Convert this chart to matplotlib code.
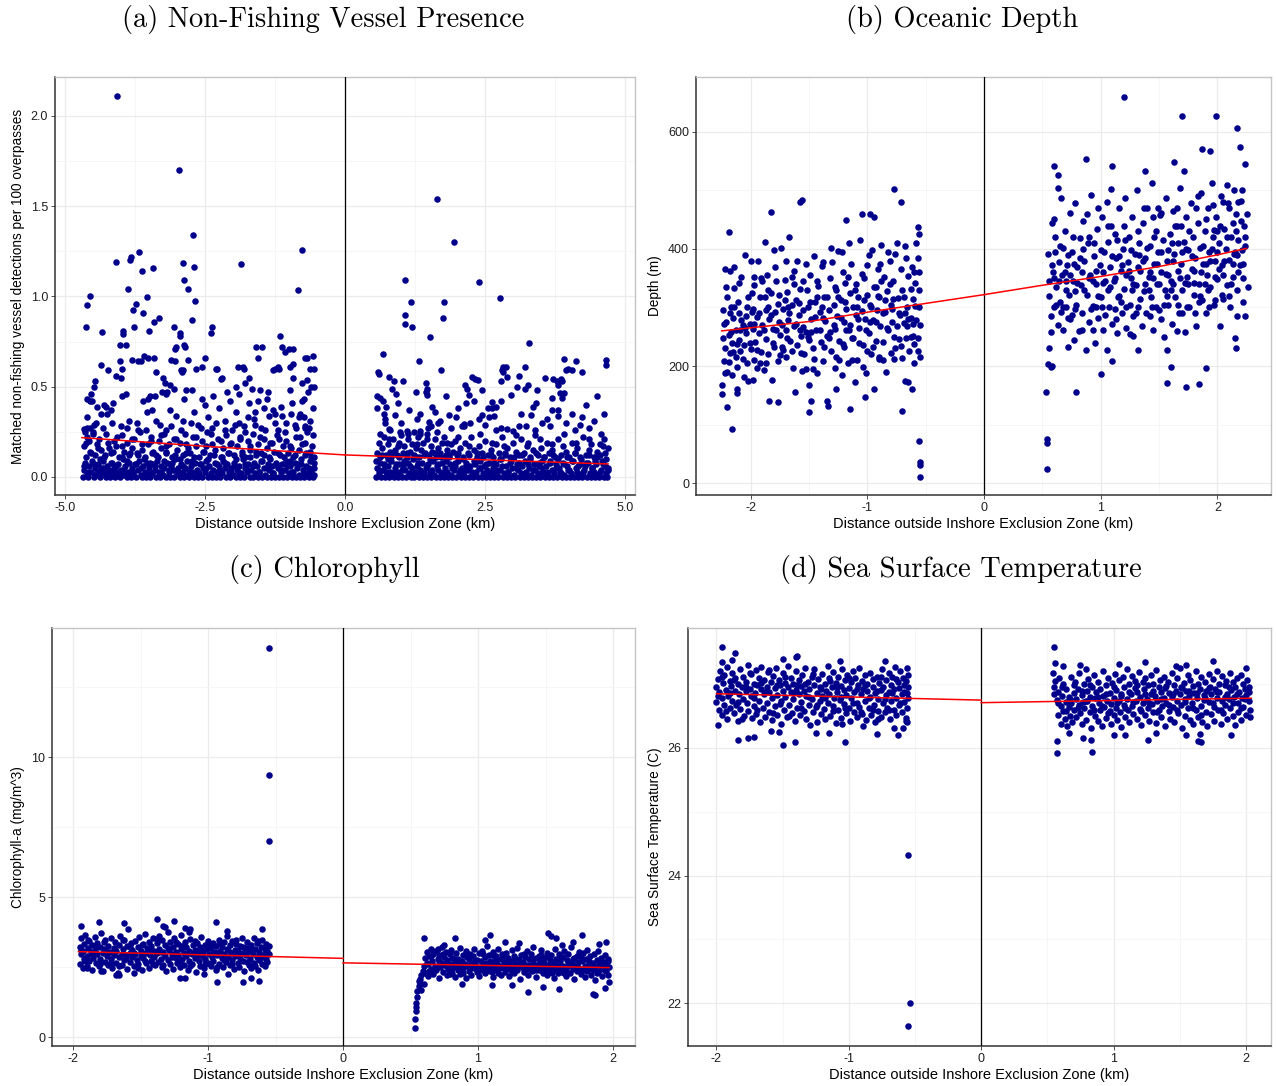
"""
Four-panel scatter: distance outside the inshore exclusion zone against
vessel presence, depth, chlorophyll-a and sea surface temperature.
"""
import matplotlib
matplotlib.use("Agg")
import matplotlib.pyplot as plt
import numpy as np
from matplotlib.ticker import MultipleLocator, FormatStrFormatter

plt.rcParams["font.family"] = ["Liberation Sans", "DejaVu Sans"]
plt.rcParams["axes.unicode_minus"] = False

POINT_COLOR = "#00008B"
XLABEL = "Distance outside Inshore Exclusion Zone (km)"

# ==================== (a) non-fishing vessel presence ====================
A_LEFT_HIGH = [
    (-4.07, 2.11), (-2.96, 1.70), (-2.72, 1.34), (-0.76, 1.26), (-3.68, 1.245), (-3.82, 1.22), (-3.84, 1.20),
    (-4.09, 1.19), (-2.89, 1.185), (-2.70, 1.165), (-1.86, 1.18), (-3.62, 1.14), (-3.43, 1.16), (-2.87, 1.09),
    (-2.80, 1.04), (-3.88, 1.04), (-0.84, 1.036), (-4.56, 1.00), (-4.60, 0.953), (-3.54, 0.995), (-3.74, 0.96),
    (-3.79, 0.927), (-3.61, 0.908), (-2.68, 0.977), (-2.74, 0.87), (-3.33, 0.88), (-3.42, 0.86), (-4.63, 0.83),
    (-4.34, 0.805), (-2.38, 0.83), (-2.40, 0.80), (-3.97, 0.81), (-3.96, 0.79), (-3.77, 0.83), (-3.50, 0.81),
    (-3.06, 0.83), (-2.95, 0.78), (-2.94, 0.80), (-3.02, 0.72), (-2.87, 0.73), (-4.02, 0.73), (-3.91, 0.73),
    (-1.16, 0.78), (-1.13, 0.72), (-1.00, 0.71), (-0.92, 0.71), (-1.07, 0.69), (-1.59, 0.72), (-1.49, 0.72),
    (-1.55, 0.66), (-1.20, 0.61), (-1.25, 0.60), (-1.83, 0.61), (-1.80, 0.60), (-0.93, 0.625), (-0.57, 0.67),
    (-0.67, 0.66), (-0.56, 0.60), (-0.56, 0.50), (-0.92, 0.55), (-0.67, 0.535), (-1.78, 0.52), (-1.95, 0.50),
    (-2.21, 0.54), (-2.30, 0.60), (-2.50, 0.66), (-2.67, 0.60), (-2.56, 0.61), (-2.80, 0.65), (-2.93, 0.59),
    (-2.91, 0.58), (-3.10, 0.65), (-2.84, 0.48), (-4.02, 0.645), (-4.35, 0.62), (-4.23, 0.59), (-3.99, 0.60),
    (-4.00, 0.55), (-4.09, 0.56), (-4.46, 0.53), (-4.48, 0.50), (-4.53, 0.46), (-4.60, 0.43), (-4.56, 0.42),
    (-4.52, 0.42), (-4.61, 0.33), (-4.43, 0.39), (-4.30, 0.40), (-4.27, 0.39), (-4.18, 0.37), (-4.14, 0.41),
    (-4.36, 0.35), (-4.26, 0.35), (-4.44, 0.30), (-4.55, 0.27), (-4.66, 0.265), (-4.61, 0.27), (-4.50, 0.24),
    (-3.91, 0.46), (-3.99, 0.45), (-3.49, 0.45), (-3.52, 0.43), (-3.39, 0.45), (-3.60, 0.42), (-3.45, 0.37),
    (-3.54, 0.36), (-3.80, 0.65), (-3.70, 0.64), (-3.65, 0.64), (-3.59, 0.67), (-3.52, 0.66), (-3.42, 0.66),
    (-3.37, 0.58), (-3.25, 0.55), (-3.22, 0.52), (-3.13, 0.51), (-3.06, 0.49), (-3.26, 0.47), (-3.20, 0.46),
    (-3.18, 0.47), (-3.13, 0.37), (-3.04, 0.64), (-3.03, 0.71), (-2.85, 0.72), (-2.89, 0.59), (-2.87, 0.43),
    (-2.74, 0.48), (-3.01, 0.34), (-2.90, 0.31), (-2.56, 0.43), (-2.28, 0.60), (-2.20, 0.55), (-1.92, 0.61),
    (-1.72, 0.55), (-2.10, 0.47), (-2.06, 0.42), (-1.89, 0.46), (-1.71, 0.41), (-1.73, 0.33), (-1.89, 0.30),
    (-1.66, 0.49), (-1.52, 0.48), (-1.56, 0.42), (-1.38, 0.47), (-1.40, 0.43), (-1.29, 0.59), (-1.17, 0.60),
    (-0.98, 0.61), (-0.99, 0.48), (-0.94, 0.41), (-0.76, 0.52), (-0.72, 0.66), (-0.62, 0.60), (-0.61, 0.50),
    (-0.66, 0.47), (-0.74, 0.43), (-0.77, 0.42), (-0.72, 0.27), (-0.71, 0.28), (-1.28, 0.37), (-1.14, 0.39),
    (-1.25, 0.35), (-1.13, 0.34), (-1.35, 0.34), (-0.96, 0.35), (-0.80, 0.35), (-0.73, 0.33), (-0.83, 0.33),
    (-4.00, 0.28), (-3.85, 0.31), (-3.70, 0.26), (-3.30, 0.29), (-3.20, 0.26), (-2.70, 0.36), (-2.62, 0.29),
    (-2.45, 0.33), (-2.38, 0.27), (-2.25, 0.38), (-2.15, 0.31), (-2.02, 0.26), (-1.95, 0.36), (-1.80, 0.28),
    (-1.62, 0.32), (-1.50, 0.27), (-1.45, 0.38), (-1.05, 0.30), (-0.88, 0.27), (-0.62, 0.31), (-0.58, 0.38),
    (-2.50, 0.40), (-2.35, 0.45), (-1.60, 0.36), (-1.20, 0.26),
]
A_LEFT_MID = [
    (-4.64, 0.25), (-4.57, 0.20), (-4.49, 0.29), (-4.41, 0.16), (-4.33, 0.27), (-4.24, 0.19), (-4.16, 0.30),
    (-4.07, 0.22), (-3.98, 0.17), (-3.89, 0.27), (-3.80, 0.21), (-3.72, 0.30), (-3.63, 0.18), (-3.55, 0.26),
    (-3.46, 0.20), (-3.37, 0.31), (-3.28, 0.23), (-3.19, 0.17), (-3.11, 0.28), (-3.02, 0.21), (-2.93, 0.26),
    (-2.84, 0.18), (-2.75, 0.30), (-2.66, 0.22), (-2.58, 0.27), (-2.49, 0.17), (-2.40, 0.24), (-2.31, 0.30),
    (-2.22, 0.20), (-2.14, 0.26), (-2.05, 0.18), (-1.96, 0.29), (-1.87, 0.21), (-1.78, 0.25), (-1.69, 0.17),
    (-1.61, 0.29), (-1.52, 0.22), (-1.43, 0.26), (-1.34, 0.19), (-1.25, 0.30), (-1.17, 0.21), (-1.08, 0.25),
    (-0.99, 0.17), (-0.90, 0.29), (-0.81, 0.22), (-0.72, 0.19), (-0.64, 0.27), (-0.57, 0.23),
]
A_LEFT_BAND = [
    (-4.66, 0.17), (-4.63, 0.19), (-4.60, 0.22), (-4.55, 0.14), (-4.51, 0.25), (-4.47, 0.12), (-4.43, 0.18),
    (-4.40, 0.21), (-4.35, 0.15), (-4.31, 0.11), (-4.27, 0.24), (-4.22, 0.16), (-4.18, 0.13), (-4.13, 0.20),
    (-4.09, 0.17), (-4.04, 0.11), (-3.99, 0.23), (-3.95, 0.14), (-3.90, 0.19), (-3.86, 0.12), (-3.81, 0.16),
    (-3.76, 0.21), (-3.71, 0.13), (-3.66, 0.25), (-3.62, 0.15), (-3.57, 0.11), (-3.52, 0.18), (-3.47, 0.22),
    (-3.43, 0.14), (-3.38, 0.12), (-3.33, 0.20), (-3.28, 0.16), (-3.24, 0.24), (-3.19, 0.13), (-3.14, 0.18),
    (-3.09, 0.11), (-3.05, 0.21), (-3.00, 0.15), (-2.95, 0.19), (-2.90, 0.12), (-2.85, 0.24), (-2.80, 0.16),
    (-2.76, 0.13), (-2.71, 0.22), (-2.66, 0.17), (-2.61, 0.11), (-2.56, 0.20), (-2.51, 0.14), (-2.47, 0.25),
    (-2.42, 0.12), (-2.37, 0.18), (-2.32, 0.15), (-2.27, 0.21), (-2.22, 0.11), (-2.18, 0.16), (-2.13, 0.23),
    (-2.08, 0.13), (-2.03, 0.19), (-1.98, 0.12), (-1.93, 0.17), (-1.88, 0.22), (-1.84, 0.14), (-1.79, 0.11),
    (-1.74, 0.20), (-1.69, 0.15), (-1.64, 0.24), (-1.59, 0.12), (-1.55, 0.18), (-1.50, 0.13), (-1.45, 0.21),
    (-1.40, 0.16), (-1.35, 0.11), (-1.30, 0.19), (-1.26, 0.14), (-1.21, 0.23), (-1.16, 0.12), (-1.11, 0.17),
    (-1.06, 0.20), (-1.01, 0.13), (-0.97, 0.16), (-0.92, 0.11), (-0.87, 0.22), (-0.82, 0.15), (-0.77, 0.18),
    (-0.72, 0.12), (-0.68, 0.25), (-0.63, 0.14), (-0.59, 0.17), (-0.56, 0.11),
]
A_LEFT_LOW = [
    (-4.68, 0.0), (-4.66, 0.04), (-4.64, 0.08), (-4.61, 0.02), (-4.59, 0.0), (-4.57, 0.06), (-4.54, 0.03),
    (-4.52, 0.09), (-4.49, 0.0), (-4.47, 0.05), (-4.44, 0.01), (-4.42, 0.07), (-4.40, 0.03), (-4.37, 0.0),
    (-4.35, 0.05), (-4.32, 0.09), (-4.30, 0.02), (-4.27, 0.0), (-4.25, 0.06), (-4.22, 0.04), (-4.20, 0.0),
    (-4.17, 0.08), (-4.15, 0.02), (-4.12, 0.05), (-4.10, 0.0), (-4.08, 0.03), (-4.05, 0.07), (-4.02, 0.0),
    (-4.00, 0.04), (-3.97, 0.10), (-3.95, 0.01), (-3.93, 0.06), (-3.90, 0.0), (-3.88, 0.03), (-3.85, 0.08),
    (-3.83, 0.0), (-3.80, 0.05), (-3.78, 0.02), (-3.75, 0.07), (-3.73, 0.0), (-3.70, 0.04), (-3.68, 0.09),
    (-3.65, 0.01), (-3.63, 0.0), (-3.60, 0.06), (-3.58, 0.03), (-3.55, 0.0), (-3.53, 0.08), (-3.50, 0.05),
    (-3.48, 0.0), (-3.45, 0.02), (-3.43, 0.07), (-3.40, 0.04), (-3.38, 0.0), (-3.35, 0.09), (-3.33, 0.03),
    (-3.30, 0.0), (-3.28, 0.06), (-3.25, 0.01), (-3.23, 0.05), (-3.20, 0.0), (-3.18, 0.08), (-3.15, 0.03),
    (-3.13, 0.0), (-3.10, 0.06), (-3.08, 0.04), (-3.05, 0.0), (-3.03, 0.10), (-3.00, 0.02), (-2.98, 0.05),
    (-2.95, 0.0), (-2.93, 0.07), (-2.90, 0.03), (-2.88, 0.0), (-2.85, 0.05), (-2.83, 0.09), (-2.80, 0.01),
    (-2.78, 0.0), (-2.75, 0.06), (-2.73, 0.03), (-2.70, 0.0), (-2.68, 0.08), (-2.65, 0.04), (-2.63, 0.0),
    (-2.60, 0.02), (-2.58, 0.07), (-2.55, 0.0), (-2.53, 0.05), (-2.50, 0.03), (-2.48, 0.09), (-2.45, 0.0),
    (-2.43, 0.06), (-2.40, 0.01), (-2.38, 0.0), (-2.35, 0.04), (-2.33, 0.08), (-2.30, 0.0), (-2.28, 0.03),
    (-2.25, 0.06), (-2.23, 0.0), (-2.20, 0.02), (-2.18, 0.09), (-2.15, 0.05), (-2.13, 0.0), (-2.10, 0.07),
    (-2.08, 0.03), (-2.05, 0.0), (-2.03, 0.05), (-2.00, 0.01), (-1.98, 0.08), (-1.95, 0.0), (-1.93, 0.04),
    (-1.90, 0.06), (-1.88, 0.0), (-1.85, 0.02), (-1.83, 0.10), (-1.80, 0.0), (-1.78, 0.05), (-1.75, 0.03),
    (-1.73, 0.07), (-1.70, 0.0), (-1.68, 0.04), (-1.65, 0.0), (-1.63, 0.08), (-1.60, 0.02), (-1.58, 0.06),
    (-1.55, 0.0), (-1.53, 0.03), (-1.50, 0.09), (-1.48, 0.0), (-1.45, 0.05), (-1.43, 0.01), (-1.40, 0.0),
    (-1.38, 0.07), (-1.35, 0.04), (-1.33, 0.0), (-1.30, 0.06), (-1.28, 0.02), (-1.25, 0.0), (-1.23, 0.08),
    (-1.20, 0.05), (-1.18, 0.0), (-1.15, 0.03), (-1.13, 0.07), (-1.10, 0.0), (-1.08, 0.04), (-1.05, 0.09),
    (-1.03, 0.0), (-1.00, 0.02), (-0.98, 0.06), (-0.95, 0.0), (-0.93, 0.03), (-0.90, 0.08), (-0.88, 0.0),
    (-0.85, 0.05), (-0.83, 0.01), (-0.80, 0.0), (-0.78, 0.07), (-0.75, 0.04), (-0.73, 0.0), (-0.70, 0.06),
    (-0.68, 0.02), (-0.65, 0.0), (-0.63, 0.09), (-0.60, 0.03), (-0.58, 0.0), (-0.56, 0.05), (-0.55, 0.01),
]
A_LEFT_LOW2 = [
    (-4.67, 0.06), (-4.62, 0.11), (-4.58, 0.03), (-4.53, 0.13), (-4.48, 0.07), (-4.43, 0.02), (-4.38, 0.10),
    (-4.33, 0.05), (-4.28, 0.12), (-4.23, 0.03), (-4.18, 0.08), (-4.14, 0.14), (-4.09, 0.06), (-4.04, 0.02),
    (-3.99, 0.11), (-3.94, 0.04), (-3.89, 0.09), (-3.84, 0.13), (-3.79, 0.03), (-3.74, 0.07), (-3.69, 0.12),
    (-3.64, 0.05), (-3.59, 0.10), (-3.54, 0.02), (-3.49, 0.08), (-3.44, 0.13), (-3.39, 0.06), (-3.34, 0.11),
    (-3.29, 0.03), (-3.24, 0.09), (-3.19, 0.14), (-3.14, 0.04), (-3.09, 0.08), (-3.04, 0.12), (-2.99, 0.02),
    (-2.94, 0.10), (-2.89, 0.06), (-2.84, 0.13), (-2.79, 0.04), (-2.74, 0.09), (-2.69, 0.11), (-2.64, 0.03),
    (-2.59, 0.07), (-2.54, 0.14), (-2.49, 0.05), (-2.44, 0.10), (-2.39, 0.02), (-2.34, 0.12), (-2.29, 0.07),
    (-2.24, 0.04), (-2.19, 0.11), (-2.14, 0.08), (-2.09, 0.13), (-2.04, 0.03), (-1.99, 0.06), (-1.94, 0.10),
    (-1.89, 0.02), (-1.84, 0.12), (-1.79, 0.07), (-1.74, 0.04), (-1.69, 0.11), (-1.64, 0.06), (-1.59, 0.14),
    (-1.54, 0.03), (-1.49, 0.09), (-1.44, 0.12), (-1.39, 0.05), (-1.34, 0.10), (-1.29, 0.02), (-1.24, 0.07),
    (-1.19, 0.13), (-1.14, 0.04), (-1.09, 0.11), (-1.04, 0.06), (-0.99, 0.09), (-0.94, 0.03), (-0.89, 0.12),
    (-0.84, 0.07), (-0.79, 0.10), (-0.74, 0.02), (-0.69, 0.13), (-0.64, 0.05), (-0.60, 0.11), (-0.56, 0.08),
]
A_RIGHT_HIGH = [
    (1.65, 1.54), (1.95, 1.30), (1.07, 1.09), (2.39, 1.08), (2.76, 0.99), (1.18, 0.97), (1.77, 0.97),
    (1.07, 0.90), (1.75, 0.88), (1.07, 0.85), (1.20, 0.83), (1.52, 0.777), (3.28, 0.742), (0.67, 0.683),
    (1.33, 0.641), (3.91, 0.654), (4.12, 0.64), (4.66, 0.647), (4.66, 0.62), (0.59, 0.58), (0.60, 0.57),
    (1.71, 0.59), (2.83, 0.61), (2.88, 0.61), (2.80, 0.59), (3.21, 0.61), (0.79, 0.556), (0.88, 0.53),
    (1.03, 0.53), (1.45, 0.52), (1.46, 0.49), (1.45, 0.47), (1.47, 0.455), (1.26, 0.47), (0.58, 0.45),
    (0.68, 0.42), (0.58, 0.38), (0.74, 0.385), (0.70, 0.35), (0.71, 0.32), (0.72, 0.30), (0.90, 0.345),
    (0.84, 0.49), (0.91, 0.46), (2.14, 0.51), (2.27, 0.555), (2.33, 0.54), (2.38, 0.535), (2.18, 0.49),
    (2.21, 0.456), (2.16, 0.41), (2.30, 0.42), (2.78, 0.53), (2.89, 0.555), (2.82, 0.58), (3.10, 0.56),
    (3.08, 0.50), (3.27, 0.51), (3.22, 0.49), (2.96, 0.455), (2.79, 0.42), (2.63, 0.415), (2.69, 0.39),
    (2.55, 0.38), (2.62, 0.38), (2.66, 0.34), (2.57, 0.33), (2.44, 0.345), (2.40, 0.32), (3.58, 0.55),
    (3.71, 0.54), (3.79, 0.53), (3.81, 0.51), (3.84, 0.465), (3.91, 0.465), (3.88, 0.44), (3.70, 0.44),
    (3.69, 0.37), (3.43, 0.48), (3.42, 0.41), (3.35, 0.385), (3.32, 0.345), (3.80, 0.335), (4.05, 0.59),
    (4.05, 0.35), (4.19, 0.29), (4.63, 0.35), (3.52, 0.30), (3.67, 0.28), (3.10, 0.28), (3.23, 0.28),
    (2.78, 0.27), (2.90, 0.265), (3.00, 0.255), (1.50, 0.306), (1.56, 0.39), (1.67, 0.30), (1.69, 0.31),
    (1.49, 0.27), (1.54, 0.28), (1.85, 0.345), (1.98, 0.33), (2.13, 0.28), (2.24, 0.30), (2.12, 0.295),
    (2.09, 0.28), (1.34, 0.35), (0.81, 0.26), (0.79, 0.265), (0.98, 0.25), (1.10, 0.255), (1.23, 0.25),
    (1.34, 0.255), (1.34, 0.24), (4.23, 0.58), (3.95, 0.595), (3.99, 0.60), (3.85, 0.545), (3.88, 0.53),
    (4.23, 0.33), (3.81, 0.37), (4.36, 0.27), (4.63, 0.21), (4.55, 0.18), (0.62, 0.44), (0.95, 0.41),
    (1.15, 0.37), (1.28, 0.32), (1.60, 0.36), (1.90, 0.27), (2.02, 0.38), (2.50, 0.29), (2.70, 0.26),
    (3.15, 0.35), (3.40, 0.26), (3.60, 0.32), (3.95, 0.30), (4.10, 0.26), (4.45, 0.31), (4.30, 0.40),
    (4.50, 0.45), (1.80, 0.45), (2.45, 0.48), (1.00, 0.30),
    (0.62, 0.24), (0.78, 0.21), (0.95, 0.17), (1.12, 0.24), (1.29, 0.18), (1.47, 0.21), (1.65, 0.25),
    (1.83, 0.19), (2.02, 0.22), (2.22, 0.17), (2.42, 0.24), (2.63, 0.19), (2.84, 0.17), (3.05, 0.23),
    (3.27, 0.19), (3.48, 0.21), (3.70, 0.18), (3.92, 0.24), (4.13, 0.19), (4.36, 0.21), (4.58, 0.24),
]
A_RIGHT_BAND = [
    (0.57, 0.13), (0.60, 0.19), (0.63, 0.11), (0.66, 0.16), (0.70, 0.22), (0.73, 0.12), (0.76, 0.18),
    (0.80, 0.14), (0.83, 0.11), (0.86, 0.21), (0.90, 0.15), (0.93, 0.12), (0.96, 0.19), (1.00, 0.23),
    (1.03, 0.13), (1.06, 0.17), (1.10, 0.11), (1.13, 0.21), (1.16, 0.14), (1.20, 0.18), (1.23, 0.12),
    (1.26, 0.16), (1.30, 0.22), (1.33, 0.11), (1.36, 0.15), (1.40, 0.19), (1.43, 0.13), (1.46, 0.24),
    (1.50, 0.12), (1.53, 0.17), (1.56, 0.14), (1.60, 0.21), (1.63, 0.11), (1.66, 0.16), (1.70, 0.13),
    (1.73, 0.19), (1.76, 0.22), (1.80, 0.12), (1.83, 0.15), (1.86, 0.11), (1.90, 0.18), (1.93, 0.14),
    (1.96, 0.20), (2.00, 0.12), (2.05, 0.16), (2.10, 0.11), (2.15, 0.19), (2.20, 0.13), (2.25, 0.22),
    (2.30, 0.15), (2.35, 0.11), (2.40, 0.17), (2.45, 0.13), (2.50, 0.20), (2.55, 0.12), (2.60, 0.15),
    (2.65, 0.11), (2.70, 0.18), (2.75, 0.13), (2.80, 0.22), (2.85, 0.12), (2.90, 0.16), (2.95, 0.11),
    (3.00, 0.19), (3.05, 0.14), (3.10, 0.12), (3.15, 0.21), (3.20, 0.13), (3.25, 0.17), (3.30, 0.11),
    (3.35, 0.15), (3.40, 0.23), (3.45, 0.12), (3.50, 0.16), (3.55, 0.11), (3.60, 0.19), (3.65, 0.13),
    (3.70, 0.15), (3.75, 0.11), (3.80, 0.21), (3.85, 0.12), (3.90, 0.17), (3.95, 0.14), (4.00, 0.11),
    (4.05, 0.19), (4.10, 0.13), (4.15, 0.16), (4.20, 0.11), (4.25, 0.22), (4.30, 0.12), (4.35, 0.15),
    (4.40, 0.18), (4.45, 0.11), (4.50, 0.14), (4.55, 0.12), (4.60, 0.17), (4.65, 0.13), (4.70, 0.16),
]
A_RIGHT_LOW = [
    (0.55, 0.0), (0.57, 0.05), (0.60, 0.02), (0.62, 0.08), (0.64, 0.0), (0.67, 0.04), (0.69, 0.07),
    (0.72, 0.0), (0.74, 0.03), (0.77, 0.06), (0.79, 0.0), (0.82, 0.09), (0.84, 0.02), (0.87, 0.0),
    (0.89, 0.05), (0.92, 0.03), (0.94, 0.0), (0.97, 0.07), (0.99, 0.01), (1.02, 0.0), (1.04, 0.06),
    (1.07, 0.04), (1.09, 0.0), (1.12, 0.08), (1.14, 0.02), (1.17, 0.0), (1.19, 0.05), (1.22, 0.10),
    (1.24, 0.0), (1.27, 0.03), (1.29, 0.06), (1.32, 0.0), (1.34, 0.04), (1.37, 0.08), (1.39, 0.0),
    (1.42, 0.02), (1.44, 0.05), (1.47, 0.0), (1.49, 0.07), (1.52, 0.03), (1.54, 0.0), (1.57, 0.09),
    (1.59, 0.01), (1.62, 0.0), (1.64, 0.06), (1.67, 0.04), (1.69, 0.0), (1.72, 0.02), (1.74, 0.08),
    (1.77, 0.0), (1.79, 0.05), (1.82, 0.03), (1.84, 0.0), (1.87, 0.07), (1.89, 0.01), (1.92, 0.0),
    (1.94, 0.04), (1.97, 0.06), (1.99, 0.0), (2.02, 0.09), (2.04, 0.02), (2.07, 0.0), (2.09, 0.05),
    (2.12, 0.03), (2.14, 0.0), (2.17, 0.08), (2.19, 0.04), (2.22, 0.0), (2.24, 0.06), (2.27, 0.01),
    (2.29, 0.0), (2.32, 0.07), (2.34, 0.03), (2.37, 0.0), (2.39, 0.05), (2.42, 0.09), (2.44, 0.0),
    (2.47, 0.02), (2.49, 0.06), (2.52, 0.0), (2.54, 0.04), (2.57, 0.08), (2.59, 0.0), (2.62, 0.03),
    (2.64, 0.05), (2.67, 0.0), (2.69, 0.07), (2.72, 0.01), (2.74, 0.0), (2.77, 0.04), (2.79, 0.10),
    (2.82, 0.0), (2.84, 0.02), (2.87, 0.06), (2.89, 0.0), (2.92, 0.03), (2.94, 0.08), (2.97, 0.0),
    (2.99, 0.05), (3.02, 0.01), (3.04, 0.0), (3.07, 0.07), (3.09, 0.04), (3.12, 0.0), (3.14, 0.02),
    (3.17, 0.06), (3.19, 0.0), (3.22, 0.09), (3.24, 0.03), (3.27, 0.0), (3.29, 0.05), (3.32, 0.01),
    (3.34, 0.0), (3.37, 0.07), (3.39, 0.04), (3.42, 0.0), (3.44, 0.02), (3.47, 0.08), (3.49, 0.0),
    (3.52, 0.05), (3.54, 0.03), (3.57, 0.0), (3.59, 0.06), (3.62, 0.01), (3.64, 0.0), (3.67, 0.09),
    (3.69, 0.04), (3.72, 0.0), (3.74, 0.02), (3.77, 0.07), (3.79, 0.0), (3.82, 0.05), (3.84, 0.03),
    (3.87, 0.0), (3.89, 0.08), (3.92, 0.01), (3.94, 0.0), (3.97, 0.06), (3.99, 0.04), (4.02, 0.0),
    (4.04, 0.02), (4.07, 0.09), (4.09, 0.0), (4.12, 0.05), (4.14, 0.03), (4.17, 0.0), (4.19, 0.07),
    (4.22, 0.01), (4.24, 0.0), (4.27, 0.04), (4.29, 0.06), (4.32, 0.0), (4.34, 0.08), (4.37, 0.02),
    (4.39, 0.0), (4.42, 0.05), (4.44, 0.03), (4.47, 0.0), (4.49, 0.07), (4.52, 0.01), (4.54, 0.0),
    (4.57, 0.04), (4.59, 0.09), (4.62, 0.0), (4.64, 0.06), (4.66, 0.02), (4.68, 0.0), (4.70, 0.05),
]
A_RIGHT_LOW2 = [
    (0.56, 0.09), (0.61, 0.04), (0.66, 0.12), (0.71, 0.06), (0.76, 0.10), (0.81, 0.03), (0.86, 0.13),
    (0.91, 0.07), (0.96, 0.11), (1.01, 0.04), (1.06, 0.09), (1.11, 0.13), (1.16, 0.06), (1.21, 0.02),
    (1.26, 0.11), (1.31, 0.08), (1.36, 0.03), (1.41, 0.12), (1.46, 0.06), (1.51, 0.10), (1.56, 0.04),
    (1.61, 0.13), (1.66, 0.07), (1.71, 0.11), (1.76, 0.03), (1.81, 0.09), (1.86, 0.12), (1.91, 0.05),
    (1.96, 0.08), (2.01, 0.13), (2.06, 0.04), (2.11, 0.10), (2.16, 0.06), (2.21, 0.12), (2.26, 0.03),
    (2.31, 0.09), (2.36, 0.13), (2.41, 0.05), (2.46, 0.11), (2.51, 0.07), (2.56, 0.02), (2.61, 0.12),
    (2.66, 0.08), (2.71, 0.04), (2.76, 0.10), (2.81, 0.06), (2.86, 0.13), (2.91, 0.03), (2.96, 0.09),
    (3.01, 0.11), (3.06, 0.05), (3.11, 0.08), (3.16, 0.12), (3.21, 0.02), (3.26, 0.07), (3.31, 0.10),
    (3.36, 0.04), (3.41, 0.13), (3.46, 0.06), (3.51, 0.09), (3.56, 0.11), (3.61, 0.03), (3.66, 0.08),
    (3.71, 0.12), (3.76, 0.05), (3.81, 0.10), (3.86, 0.02), (3.91, 0.07), (3.96, 0.11), (4.01, 0.04),
    (4.06, 0.09), (4.11, 0.13), (4.16, 0.06), (4.21, 0.10), (4.26, 0.03), (4.31, 0.08), (4.36, 0.12),
    (4.41, 0.05), (4.46, 0.09), (4.51, 0.11), (4.56, 0.03), (4.61, 0.07), (4.66, 0.10), (4.69, 0.04),
]
FIT_A_LEFT_X = [-4.70, -2.50, 0.0]
FIT_A_LEFT_Y = [0.218, 0.170, 0.122]
FIT_A_RIGHT_X = [0.0, 2.50, 4.70]
FIT_A_RIGHT_Y = [0.122, 0.095, 0.072]

# ==================== (b) oceanic depth ====================
B_LEFT = [
    (-2.16, 92), (-0.56, 71), (-0.55, 36), (-0.55, 31), (-0.55, 10), (-0.77, 503), (-0.71, 480), (-1.56, 484),
    (-1.58, 480), (-1.83, 463), (-2.19, 429), (-1.05, 460), (-0.98, 459), (-0.94, 454), (-1.18, 449),
    (-0.57, 438), (-0.56, 425), (-0.57, 385), (-1.50, 122), (-1.35, 141), (-1.15, 126), (-0.70, 123),
    (-1.84, 141), (-2.12, 153), (-2.12, 161), (-2.20, 130), (-2.25, 167), (-2.25, 152), (-1.02, 147),
    (-0.94, 161), (-0.68, 175), (-0.65, 173), (-0.62, 160),
    (-2.24, 248), (-2.24, 295), (-2.23, 208), (-2.22, 365), (-2.22, 231), (-2.21, 276), (-2.20, 190),
    (-2.20, 318), (-2.19, 253), (-2.18, 222), (-2.18, 362), (-2.17, 300), (-2.16, 185), (-2.16, 240),
    (-2.15, 282), (-2.14, 333), (-2.13, 215), (-2.13, 262), (-2.12, 198), (-2.11, 310), (-2.10, 244),
    (-2.10, 290), (-2.09, 226), (-2.08, 352), (-2.07, 270), (-2.06, 182), (-2.06, 236), (-2.05, 389),
    (-2.04, 286), (-2.04, 257), (-2.03, 205), (-2.02, 318), (-2.01, 272), (-2.00, 229), (-2.00, 379),
    (-1.99, 292), (-1.98, 176), (-1.98, 263), (-1.97, 338), (-1.96, 241), (-1.95, 197), (-1.95, 284),
    (-1.94, 380), (-1.93, 256), (-1.92, 318), (-1.91, 224), (-1.90, 345), (-1.90, 270), (-1.89, 193),
    (-1.88, 412), (-1.87, 296), (-1.87, 247), (-1.86, 356), (-1.85, 220), (-1.84, 281), (-1.83, 325),
    (-1.82, 176), (-1.81, 264), (-1.80, 399), (-1.80, 232), (-1.79, 292), (-1.78, 345), (-1.77, 208),
    (-1.76, 275), (-1.76, 322), (-1.75, 253), (-1.74, 401), (-1.73, 232), (-1.72, 297), (-1.71, 347),
    (-1.70, 262), (-1.70, 215), (-1.69, 326), (-1.68, 279), (-1.67, 420), (-1.66, 243), (-1.65, 304),
    (-1.65, 352), (-1.64, 196), (-1.63, 268), (-1.62, 155), (-1.61, 313), (-1.60, 380), (-1.60, 236),
    (-1.59, 287), (-1.58, 331), (-1.57, 251), (-1.56, 192), (-1.55, 345), (-1.55, 296), (-1.54, 220),
    (-1.53, 258), (-1.52, 330), (-1.51, 301), (-1.50, 168), (-1.50, 245), (-1.49, 356), (-1.48, 280),
    (-1.47, 230), (-1.46, 388), (-1.45, 309), (-1.44, 262), (-1.43, 188), (-1.42, 336), (-1.41, 293),
    (-1.40, 241), (-1.39, 371), (-1.38, 208), (-1.37, 318), (-1.36, 277), (-1.35, 251), (-1.34, 132),
    (-1.33, 296), (-1.32, 350), (-1.31, 226), (-1.30, 377), (-1.29, 305), (-1.28, 263), (-1.28, 196),
    (-1.27, 330), (-1.26, 285), (-1.25, 396), (-1.24, 243), (-1.23, 313), (-1.22, 184), (-1.21, 361),
    (-1.20, 276), (-1.20, 232), (-1.19, 342), (-1.18, 297), (-1.17, 205), (-1.16, 262), (-1.15, 325),
    (-1.14, 374), (-1.13, 248), (-1.12, 301), (-1.11, 172), (-1.10, 287), (-1.10, 340), (-1.09, 211),
    (-1.08, 318), (-1.07, 265), (-1.06, 415), (-1.05, 294), (-1.04, 236), (-1.03, 350), (-1.02, 280),
    (-1.01, 188), (-1.00, 322), (-1.00, 372), (-0.99, 257), (-0.98, 304), (-0.97, 220), (-0.96, 399),
    (-0.95, 278), (-0.94, 335), (-0.93, 243), (-0.92, 296), (-0.91, 365), (-0.90, 212), (-0.90, 318),
    (-0.89, 268), (-0.88, 406), (-0.87, 241), (-0.86, 352), (-0.85, 293), (-0.84, 190), (-0.83, 328),
    (-0.82, 261), (-0.81, 380), (-0.80, 222), (-0.80, 305), (-0.79, 276), (-0.78, 345), (-0.77, 212),
    (-0.76, 392), (-0.75, 268), (-0.74, 316), (-0.73, 247), (-0.72, 288), (-0.71, 366), (-0.70, 214),
    (-0.70, 330), (-0.69, 274), (-0.68, 405), (-0.67, 248), (-0.66, 300), (-0.65, 353), (-0.64, 226),
    (-0.63, 282), (-0.62, 370), (-0.61, 252), (-0.61, 315), (-0.60, 205), (-0.59, 342), (-0.58, 278),
    (-0.58, 410), (-0.57, 248), (-0.56, 300), (-0.56, 360), (-0.55, 270),
    (-2.22, 188), (-2.15, 224), (-2.08, 278), (-1.97, 210), (-1.85, 300), (-1.72, 228), (-1.63, 340),
    (-1.53, 195), (-1.43, 318), (-1.32, 258), (-1.24, 211), (-1.12, 248), (-1.04, 198), (-0.93, 335),
    (-0.87, 290), (-0.76, 230), (-0.66, 268), (-0.60, 238), (-1.48, 140), (-1.27, 160), (-1.77, 138),
    (-2.02, 174), (-0.90, 215), (-1.38, 378), (-1.16, 410), (-1.97, 352),
]
B_LEFT_MORE = [
    (-2.23, 272), (-2.21, 335), (-2.19, 206), (-2.17, 258), (-2.14, 300), (-2.12, 238), (-2.10, 342),
    (-2.07, 212), (-2.05, 265), (-2.03, 301), (-2.01, 240), (-1.99, 325), (-1.97, 272), (-1.95, 228),
    (-1.93, 290), (-1.91, 350), (-1.89, 262), (-1.87, 205), (-1.85, 330), (-1.83, 288), (-1.81, 240),
    (-1.79, 370), (-1.77, 306), (-1.75, 218), (-1.73, 270), (-1.71, 312), (-1.69, 248), (-1.67, 290),
    (-1.65, 226), (-1.63, 362), (-1.61, 272), (-1.59, 308), (-1.57, 222), (-1.55, 266), (-1.53, 375),
    (-1.51, 250), (-1.49, 310), (-1.47, 195), (-1.45, 283), (-1.43, 345), (-1.41, 262), (-1.39, 300),
    (-1.37, 232), (-1.35, 318), (-1.33, 248), (-1.31, 402), (-1.29, 270), (-1.27, 215), (-1.25, 318),
    (-1.23, 282), (-1.21, 238), (-1.19, 310), (-1.17, 352), (-1.15, 270), (-1.13, 210), (-1.11, 330),
    (-1.09, 300), (-1.07, 240), (-1.05, 358), (-1.03, 312), (-1.01, 262), (-0.99, 390), (-0.97, 300),
    (-0.95, 232), (-0.93, 275), (-0.91, 320), (-0.89, 375), (-0.87, 210), (-0.85, 312), (-0.83, 265),
    (-0.81, 340), (-0.79, 298), (-0.77, 250), (-0.75, 410), (-0.73, 290), (-0.71, 235), (-0.69, 318),
    (-0.67, 385), (-0.65, 280), (-0.63, 332), (-0.61, 272), (-0.59, 302), (-0.57, 225), (-0.56, 330),
    (-0.55, 215), (-2.18, 290), (-2.09, 262), (-1.98, 298), (-1.88, 318), (-1.78, 262), (-1.68, 300),
    (-1.58, 262), (-1.48, 258), (-1.38, 282), (-1.28, 335), (-1.18, 262), (-1.08, 280), (-0.98, 275),
    (-0.88, 345), (-0.78, 315), (-0.68, 290), (-0.60, 360), (-2.14, 370), (-1.92, 205), (-1.70, 380),
    (-1.46, 212), (-1.22, 395), (-1.00, 225), (-0.82, 395), (-0.63, 250),
]
B_RIGHT = [
    (1.20, 660), (1.70, 628), (1.99, 628), (2.17, 607), (2.19, 575), (2.24, 545), (1.87, 571), (1.94, 567),
    (0.87, 554), (0.60, 542), (0.63, 526), (1.10, 542), (1.63, 548), (1.71, 534), (1.38, 534), (0.54, 24),
    (0.54, 76), (0.54, 68), (0.53, 156), (0.79, 156), (1.00, 187), (1.57, 171), (1.73, 164), (1.84, 169),
    (1.60, 198), (1.90, 197), (0.55, 204), (0.57, 199), (0.58, 200), (0.56, 231), (1.32, 228), (1.57, 227),
    (2.15, 248), (2.16, 231), (2.17, 286), (2.24, 285), (2.26, 335),
    (0.55, 392), (0.56, 345), (0.57, 285), (0.58, 445), (0.59, 360), (0.60, 300), (0.61, 420), (0.62, 335),
    (0.63, 505), (0.63, 270), (0.64, 378), (0.65, 310), (0.66, 488), (0.67, 355), (0.68, 262), (0.69, 430),
    (0.70, 300), (0.71, 372), (0.72, 232), (0.73, 322), (0.74, 462), (0.75, 288), (0.75, 395), (0.76, 345),
    (0.77, 244), (0.78, 478), (0.79, 305), (0.80, 370), (0.81, 260), (0.82, 418), (0.83, 338), (0.84, 290),
    (0.85, 448), (0.86, 380), (0.87, 228), (0.88, 322), (0.89, 410), (0.90, 276), (0.91, 356), (0.92, 493),
    (0.93, 302), (0.94, 388), (0.95, 240), (0.96, 340), (0.97, 435), (0.98, 282), (0.99, 372), (1.00, 318),
    (1.01, 455), (1.02, 262), (1.03, 395), (1.04, 345), (1.05, 228), (1.06, 412), (1.07, 300), (1.08, 370),
    (1.09, 502), (1.10, 272), (1.11, 345), (1.12, 425), (1.13, 385), (1.14, 256), (1.15, 318), (1.16, 470),
    (1.17, 362), (1.18, 290), (1.19, 400), (1.20, 332), (1.21, 488), (1.22, 265), (1.23, 378), (1.24, 420),
    (1.25, 305), (1.26, 350), (1.27, 455), (1.28, 285), (1.29, 392), (1.30, 338), (1.31, 500), (1.32, 300),
    (1.33, 410), (1.34, 362), (1.35, 268), (1.36, 445), (1.37, 328), (1.38, 385), (1.39, 290), (1.40, 470),
    (1.41, 352), (1.42, 405), (1.43, 318), (1.44, 512), (1.45, 262), (1.46, 375), (1.47, 430), (1.48, 340),
    (1.49, 395), (1.50, 296), (1.51, 458), (1.52, 360), (1.53, 415), (1.54, 250), (1.55, 330), (1.56, 488),
    (1.57, 380), (1.58, 305), (1.59, 425), (1.60, 345), (1.61, 272), (1.62, 465), (1.63, 392), (1.64, 318),
    (1.65, 440), (1.66, 362), (1.67, 290), (1.68, 505), (1.69, 375), (1.70, 330), (1.71, 412), (1.72, 258),
    (1.73, 455), (1.74, 352), (1.75, 398), (1.76, 300), (1.77, 478), (1.78, 365), (1.79, 420), (1.80, 322),
    (1.81, 385), (1.82, 268), (1.83, 445), (1.84, 340), (1.85, 402), (1.86, 495), (1.87, 312), (1.88, 375),
    (1.89, 430), (1.90, 290), (1.91, 355), (1.92, 470), (1.93, 395), (1.94, 335), (1.95, 512), (1.96, 420),
    (1.97, 305), (1.98, 380), (1.99, 455), (2.00, 348), (2.01, 410), (2.02, 268), (2.03, 490), (2.04, 372),
    (2.05, 315), (2.06, 435), (2.07, 400), (2.08, 338), (2.09, 478), (2.10, 382), (2.11, 300), (2.12, 420),
    (2.13, 352), (2.14, 500), (2.15, 395), (2.16, 460), (2.17, 330), (2.18, 415), (2.19, 372), (2.20, 482),
    (2.21, 398), (2.22, 350), (2.23, 440), (2.24, 405), (2.25, 460),
    (0.60, 350), (0.65, 405), (0.70, 345), (0.72, 390), (0.78, 328), (0.84, 360), (0.90, 420), (0.96, 300),
    (1.02, 360), (1.06, 330), (1.12, 298), (1.16, 388), (1.22, 355), (1.27, 330), (1.32, 370), (1.37, 470),
    (1.42, 285), (1.47, 300), (1.52, 395), (1.58, 355), (1.62, 340), (1.66, 410), (1.70, 290), (1.75, 340),
    (1.80, 362), (1.85, 320), (1.90, 375), (1.95, 400), (2.00, 430), (2.05, 355), (2.10, 320), (2.13, 445),
    (2.18, 480), (2.22, 310), (1.28, 252), (1.10, 208), (0.93, 262), (1.45, 455), (1.83, 490), (2.08, 510),
    (0.68, 300), (1.52, 280), (1.98, 312), (1.05, 480), (1.65, 260),
]
B_RIGHT_MORE = [
    (0.56, 320), (0.58, 372), (0.60, 452), (0.62, 305), (0.64, 345), (0.66, 292), (0.68, 402), (0.70, 330),
    (0.72, 282), (0.74, 355), (0.76, 420), (0.78, 298), (0.80, 342), (0.82, 385), (0.84, 262), (0.86, 330),
    (0.88, 460), (0.90, 350), (0.92, 298), (0.94, 410), (0.96, 362), (0.98, 320), (1.00, 398), (1.02, 342),
    (1.04, 288), (1.06, 440), (1.08, 335), (1.10, 388), (1.12, 350), (1.14, 415), (1.16, 320), (1.18, 372),
    (1.20, 440), (1.22, 300), (1.24, 362), (1.26, 398), (1.28, 340), (1.30, 290), (1.32, 430), (1.34, 315),
    (1.36, 380), (1.38, 340), (1.40, 402), (1.42, 360), (1.44, 300), (1.46, 420), (1.48, 375), (1.50, 340),
    (1.52, 462), (1.54, 305), (1.56, 358), (1.58, 398), (1.60, 330), (1.62, 380), (1.64, 440), (1.66, 305),
    (1.68, 350), (1.70, 395), (1.72, 342), (1.74, 300), (1.76, 430), (1.78, 388), (1.80, 342), (1.82, 470),
    (1.84, 310), (1.86, 360), (1.88, 405), (1.90, 452), (1.92, 330), (1.94, 380), (1.96, 475), (1.98, 352),
    (2.00, 395), (2.02, 440), (2.04, 322), (2.06, 380), (2.08, 420), (2.10, 470), (2.12, 340), (2.14, 392),
    (2.16, 430), (2.18, 360), (2.20, 448), (2.22, 375), (2.24, 420), (0.57, 258), (0.61, 395), (0.69, 360),
    (0.77, 375), (0.85, 400), (0.93, 345), (1.01, 300), (1.09, 440), (1.17, 310), (1.25, 255), (1.33, 390),
    (1.41, 330), (1.49, 470), (1.57, 320), (1.65, 470), (1.73, 400), (1.81, 290), (1.89, 340), (1.97, 432),
    (2.05, 480), (2.13, 375), (2.21, 500), (0.74, 280), (0.98, 470), (1.21, 415), (1.45, 350), (1.69, 440),
    (1.93, 300), (2.17, 390), (1.13, 280), (1.61, 410), (2.01, 365),
]
FIT_B_LEFT_X = [-2.25, -1.5, -1.0, -0.5, 0.0]
FIT_B_LEFT_Y = [260, 276, 292, 307, 322]
FIT_B_RIGHT_X = [0.0, 0.5, 1.0, 1.5, 2.0, 2.25]
FIT_B_RIGHT_Y = [322, 338, 353, 370, 390, 401]

# ==================== (c) chlorophyll-a ====================
C_LEFT = [
    (-0.55, 13.9), (-0.55, 9.35), (-0.55, 7.0),
    (-1.94, 3.96), (-1.81, 4.10), (-1.62, 4.08), (-1.38, 4.22), (-1.33, 3.98), (-1.32, 3.92), (-1.25, 4.15),
    (-0.94, 4.12), (-1.17, 3.89), (-1.14, 3.74), (-1.13, 3.85), (-0.60, 3.86), (-0.86, 3.80), (-1.68, 2.20),
    (-1.66, 2.20), (-1.21, 2.12), (-1.17, 2.12), (-1.03, 2.25), (-0.93, 1.96), (-0.74, 1.96), (-0.62, 2.00),
    (-0.68, 2.12), (-1.79, 2.35), (-1.90, 2.45), (-1.55, 2.28), (-0.85, 2.25),
    (-1.95, 2.62), (-1.95, 3.21), (-1.94, 2.95), (-1.94, 3.52), (-1.93, 2.48), (-1.93, 3.08), (-1.92, 3.34),
    (-1.92, 2.77), (-1.91, 3.65), (-1.90, 2.90), (-1.90, 2.55), (-1.89, 3.18), (-1.88, 3.42), (-1.88, 2.71),
    (-1.87, 3.02), (-1.86, 2.38), (-1.86, 3.29), (-1.85, 2.84), (-1.84, 3.58), (-1.84, 3.11), (-1.83, 2.63),
    (-1.82, 2.97), (-1.82, 3.37), (-1.81, 2.52), (-1.80, 3.22), (-1.80, 2.80), (-1.79, 3.70), (-1.78, 2.99),
    (-1.78, 2.35), (-1.77, 3.14), (-1.76, 2.68), (-1.76, 3.45), (-1.75, 2.88), (-1.74, 3.26), (-1.74, 2.59),
    (-1.73, 3.05), (-1.72, 3.55), (-1.72, 2.77), (-1.71, 2.45), (-1.70, 3.19), (-1.70, 2.93), (-1.69, 3.38),
    (-1.68, 2.66), (-1.68, 3.07), (-1.67, 2.30), (-1.66, 3.30), (-1.66, 2.85), (-1.65, 3.60), (-1.64, 2.98),
    (-1.64, 2.56), (-1.63, 3.16), (-1.62, 2.74), (-1.62, 3.48), (-1.61, 2.92), (-1.60, 3.24), (-1.60, 2.42),
    (-1.59, 3.85), (-1.58, 3.01), (-1.58, 2.69), (-1.57, 3.35), (-1.56, 2.87), (-1.56, 3.12), (-1.55, 2.53),
    (-1.54, 3.44), (-1.54, 2.96), (-1.53, 2.76), (-1.52, 3.20), (-1.52, 2.61), (-1.51, 3.57), (-1.50, 2.90),
    (-1.50, 3.06), (-1.49, 2.40), (-1.48, 3.31), (-1.48, 2.82), (-1.47, 3.68), (-1.46, 3.00), (-1.46, 2.64),
    (-1.45, 3.17), (-1.44, 2.47), (-1.44, 3.40), (-1.43, 2.94), (-1.42, 2.72), (-1.42, 3.25), (-1.41, 3.52),
    (-1.40, 2.86), (-1.40, 3.09), (-1.39, 2.57), (-1.38, 3.36), (-1.38, 2.99), (-1.37, 2.68), (-1.36, 3.62),
    (-1.36, 3.13), (-1.35, 2.80), (-1.34, 3.46), (-1.34, 2.51), (-1.33, 3.04), (-1.32, 2.91), (-1.32, 3.28),
    (-1.31, 2.36), (-1.30, 3.75), (-1.30, 2.75), (-1.29, 3.10), (-1.28, 2.60), (-1.28, 3.39), (-1.27, 2.97),
    (-1.26, 3.22), (-1.26, 2.44), (-1.25, 3.55), (-1.24, 2.83), (-1.24, 3.03), (-1.23, 2.65), (-1.22, 3.32),
    (-1.22, 2.93), (-1.21, 2.50), (-1.20, 3.16), (-1.20, 3.63), (-1.19, 2.78), (-1.18, 3.00), (-1.18, 2.58),
    (-1.17, 3.41), (-1.16, 2.88), (-1.16, 3.20), (-1.15, 2.41), (-1.14, 3.08), (-1.14, 2.70), (-1.13, 3.50),
    (-1.12, 2.95), (-1.12, 2.62), (-1.11, 3.27), (-1.10, 2.84), (-1.10, 3.12), (-1.09, 2.33), (-1.08, 3.37),
    (-1.08, 2.99), (-1.07, 2.73), (-1.06, 3.23), (-1.06, 2.55), (-1.05, 3.58), (-1.04, 2.90), (-1.04, 3.05),
    (-1.03, 2.46), (-1.02, 3.30), (-1.02, 2.79), (-1.01, 3.15), (-1.00, 2.64), (-1.00, 3.44), (-0.99, 2.97),
    (-0.98, 2.53), (-0.98, 3.19), (-0.97, 2.86), (-0.96, 3.35), (-0.96, 2.70), (-0.95, 3.02), (-0.94, 2.38),
    (-0.94, 3.26), (-0.93, 2.92), (-0.92, 3.48), (-0.92, 2.61), (-0.91, 3.09), (-0.90, 2.81), (-0.90, 3.21),
    (-0.89, 2.49), (-0.88, 3.38), (-0.88, 2.96), (-0.87, 2.67), (-0.86, 3.14), (-0.86, 3.60), (-0.85, 2.85),
    (-0.84, 2.56), (-0.84, 3.29), (-0.83, 3.00), (-0.82, 2.74), (-0.82, 3.44), (-0.81, 2.43), (-0.80, 3.11),
    (-0.80, 2.89), (-0.79, 3.32), (-0.78, 2.63), (-0.78, 3.06), (-0.77, 2.50), (-0.76, 3.24), (-0.76, 2.83),
    (-0.75, 3.52), (-0.74, 2.70), (-0.74, 3.01), (-0.73, 2.35), (-0.72, 3.18), (-0.72, 2.93), (-0.71, 3.40),
    (-0.70, 2.58), (-0.70, 3.07), (-0.69, 2.78), (-0.68, 3.30), (-0.68, 2.47), (-0.67, 2.98), (-0.66, 3.55),
    (-0.66, 2.66), (-0.65, 3.13), (-0.64, 2.87), (-0.64, 3.36), (-0.63, 2.41), (-0.62, 3.04), (-0.62, 2.75),
    (-0.61, 3.22), (-0.60, 2.60), (-0.60, 3.45), (-0.59, 2.92), (-0.58, 3.15), (-0.58, 2.53), (-0.57, 3.33),
    (-0.57, 2.80), (-0.56, 3.08), (-0.56, 2.68), (-0.55, 3.26), (-0.55, 2.95),
]
C_LEFT_MORE = [
    (-1.94, 3.10), (-1.91, 2.70), (-1.89, 3.45), (-1.86, 2.98), (-1.83, 3.25), (-1.80, 2.60), (-1.77, 3.38),
    (-1.75, 3.04), (-1.72, 2.66), (-1.69, 3.12), (-1.66, 2.52), (-1.63, 3.45), (-1.61, 2.83), (-1.58, 3.20),
    (-1.55, 3.00), (-1.52, 2.46), (-1.49, 3.28), (-1.47, 2.73), (-1.44, 3.08), (-1.41, 2.62), (-1.38, 3.50),
    (-1.35, 3.05), (-1.33, 2.58), (-1.30, 3.18), (-1.27, 2.85), (-1.24, 3.40), (-1.21, 2.70), (-1.19, 3.24),
    (-1.16, 2.96), (-1.13, 2.55), (-1.10, 3.42), (-1.07, 2.92), (-1.05, 3.16), (-1.02, 2.60), (-0.99, 3.28),
    (-0.96, 3.00), (-0.93, 2.50), (-0.91, 3.36), (-0.88, 2.76), (-0.85, 3.10), (-0.82, 2.62), (-0.79, 3.48),
    (-0.77, 2.95), (-0.74, 3.20), (-0.71, 2.68), (-0.68, 3.12), (-0.65, 2.52), (-0.63, 3.42), (-0.60, 2.86),
    (-0.57, 3.02),
]
C_RIGHT = [
    (0.53, 0.33), (0.53, 0.65), (0.54, 0.92), (0.54, 1.08), (0.54, 1.20), (0.55, 1.42), (0.55, 1.65),
    (0.56, 1.82), (0.57, 1.93), (0.57, 2.08), (0.58, 2.20), (0.59, 2.35), (0.56, 2.00), (0.58, 1.68),
    (0.60, 1.90), (0.60, 3.55), (0.83, 3.55), (1.09, 3.65), (1.77, 3.65), (1.52, 3.70), (1.54, 3.62),
    (1.95, 3.40), (1.37, 1.60), (1.85, 1.55), (1.87, 1.50), (1.94, 1.75), (1.60, 1.72), (1.10, 1.85),
    (0.88, 1.90), (1.48, 1.78), (1.25, 1.86), (1.58, 3.55), (1.62, 3.30), (1.20, 3.38), (0.75, 3.30),
    (0.70, 3.15), (1.05, 3.45), (1.30, 3.35), (1.70, 3.40), (1.90, 3.32),
    (0.60, 2.52), (0.61, 2.81), (0.61, 2.30), (0.62, 3.02), (0.63, 2.61), (0.63, 2.18), (0.64, 2.90),
    (0.65, 2.44), (0.65, 3.15), (0.66, 2.70), (0.67, 2.26), (0.67, 2.98), (0.68, 2.55), (0.69, 3.08),
    (0.69, 2.38), (0.70, 2.77), (0.71, 2.12), (0.71, 2.93), (0.72, 2.49), (0.73, 3.20), (0.73, 2.64),
    (0.74, 2.33), (0.75, 2.86), (0.75, 2.56), (0.76, 3.05), (0.77, 2.21), (0.77, 2.74), (0.78, 2.42),
    (0.79, 2.95), (0.79, 2.60), (0.80, 3.12), (0.81, 2.29), (0.81, 2.83), (0.82, 2.50), (0.83, 2.68),
    (0.83, 2.15), (0.84, 3.00), (0.85, 2.39), (0.85, 2.79), (0.86, 2.57), (0.87, 3.18), (0.87, 2.25),
    (0.88, 2.71), (0.89, 2.47), (0.89, 2.92), (0.90, 2.62), (0.91, 2.10), (0.91, 3.06), (0.92, 2.53),
    (0.93, 2.80), (0.93, 2.35), (0.94, 2.97), (0.95, 2.66), (0.95, 2.20), (0.96, 2.88), (0.97, 2.45),
    (0.97, 3.14), (0.98, 2.59), (0.99, 2.31), (0.99, 2.76), (1.00, 2.51), (1.01, 2.99), (1.01, 2.17),
    (1.02, 2.70), (1.03, 2.41), (1.03, 3.09), (1.04, 2.58), (1.05, 2.86), (1.05, 2.27), (1.06, 2.64),
    (1.07, 3.24), (1.07, 2.48), (1.08, 2.93), (1.09, 2.36), (1.09, 2.73), (1.10, 2.55), (1.11, 3.04),
    (1.11, 2.14), (1.12, 2.67), (1.13, 2.44), (1.13, 2.89), (1.14, 2.60), (1.15, 2.30), (1.15, 3.16),
    (1.16, 2.52), (1.17, 2.78), (1.17, 2.22), (1.18, 2.95), (1.19, 2.46), (1.19, 2.68), (1.20, 2.34),
    (1.21, 3.01), (1.21, 2.57), (1.22, 2.81), (1.23, 2.19), (1.23, 2.63), (1.24, 2.42), (1.25, 3.10),
    (1.25, 2.72), (1.26, 2.50), (1.27, 2.88), (1.27, 2.28), (1.28, 2.61), (1.29, 3.19), (1.29, 2.40),
    (1.30, 2.75), (1.31, 2.54), (1.31, 2.09), (1.32, 2.94), (1.33, 2.47), (1.33, 2.69), (1.34, 2.32),
    (1.35, 2.85), (1.35, 2.58), (1.36, 3.07), (1.37, 2.43), (1.37, 2.23), (1.38, 2.77), (1.39, 2.52),
    (1.39, 2.96), (1.40, 2.36), (1.41, 2.66), (1.41, 3.22), (1.42, 2.48), (1.43, 2.82), (1.43, 2.16),
    (1.44, 2.59), (1.45, 2.91), (1.45, 2.39), (1.46, 2.71), (1.47, 2.50), (1.47, 3.12), (1.48, 2.29),
    (1.49, 2.64), (1.49, 2.84), (1.50, 2.45), (1.51, 3.00), (1.51, 2.20), (1.52, 2.56), (1.53, 2.76),
    (1.53, 2.35), (1.54, 2.93), (1.55, 2.49), (1.55, 2.67), (1.56, 2.12), (1.57, 3.15), (1.57, 2.42),
    (1.58, 2.80), (1.59, 2.58), (1.59, 2.27), (1.60, 2.98), (1.61, 2.46), (1.61, 2.70), (1.62, 2.33),
    (1.63, 2.87), (1.63, 2.55), (1.64, 3.08), (1.65, 2.40), (1.65, 2.18), (1.66, 2.74), (1.67, 2.52),
    (1.67, 2.95), (1.68, 2.30), (1.69, 2.63), (1.69, 3.20), (1.70, 2.44), (1.71, 2.81), (1.71, 2.06),
    (1.72, 2.57), (1.73, 2.37), (1.73, 2.90), (1.74, 2.68), (1.75, 2.48), (1.75, 3.03), (1.76, 2.24),
    (1.77, 2.72), (1.77, 2.41), (1.78, 2.99), (1.79, 2.54), (1.79, 2.15), (1.80, 2.79), (1.81, 2.36),
    (1.81, 3.11), (1.82, 2.60), (1.83, 2.45), (1.83, 2.88), (1.84, 2.21), (1.85, 2.66), (1.85, 2.39),
    (1.86, 2.97), (1.87, 2.51), (1.87, 2.02), (1.88, 2.75), (1.89, 2.32), (1.89, 3.06), (1.90, 2.58),
    (1.91, 2.43), (1.91, 2.84), (1.92, 2.17), (1.93, 2.69), (1.93, 2.47), (1.94, 2.92), (1.95, 2.36),
    (1.95, 2.62), (1.96, 2.23), (1.96, 2.80), (1.97, 2.51), (1.97, 1.95),
]
C_RIGHT_MORE = [
    (0.62, 2.64), (0.65, 2.90), (0.68, 2.42), (0.71, 2.70), (0.74, 2.95), (0.77, 2.53), (0.80, 2.36),
    (0.83, 2.80), (0.86, 2.65), (0.89, 2.30), (0.92, 2.86), (0.95, 2.50), (0.98, 2.72), (1.01, 2.40),
    (1.04, 2.95), (1.07, 2.60), (1.10, 2.32), (1.13, 2.76), (1.16, 2.48), (1.19, 2.88), (1.22, 2.55),
    (1.25, 2.33), (1.28, 2.80), (1.31, 2.64), (1.34, 2.98), (1.37, 2.58), (1.40, 2.80), (1.43, 2.40),
    (1.46, 2.60), (1.49, 2.36), (1.52, 2.86), (1.55, 2.30), (1.58, 2.64), (1.61, 2.85), (1.64, 2.28),
    (1.67, 2.60), (1.70, 2.78), (1.73, 2.52), (1.76, 2.86), (1.79, 2.38), (1.82, 2.72), (1.85, 2.54),
    (1.88, 2.28), (1.91, 2.66), (1.94, 2.40), (1.96, 2.70), (0.64, 2.35), (0.79, 2.25), (1.12, 2.90),
    (1.47, 2.92),
]
FIT_C_LEFT_X = [-1.96, 0.0]
FIT_C_LEFT_Y = [3.05, 2.81]
FIT_C_RIGHT_X = [0.0, 1.97]
FIT_C_RIGHT_Y = [2.65, 2.48]

# ==================== (d) sea surface temperature ====================
D_LEFT = [
    (-0.55, 24.33), (-0.54, 22.0), (-0.55, 21.65),
    (-1.96, 27.59), (-1.86, 27.49), (-1.96, 27.34), (-1.88, 27.38), (-1.50, 27.40), (-1.40, 27.43),
    (-1.39, 27.44), (-0.73, 27.37), (-1.07, 27.36), (-1.84, 26.13), (-1.76, 26.15), (-1.72, 26.17),
    (-1.50, 26.05), (-1.41, 26.10), (-1.03, 26.09), (-0.79, 26.22), (-0.63, 26.20), (-1.99, 26.36),
    (-1.59, 26.27), (-1.53, 26.25), (-1.25, 26.23), (-1.15, 26.24), (-1.05, 26.38), (-0.89, 26.35),
    (-0.57, 26.47), (-0.59, 26.32), (-0.66, 26.32), (-0.78, 26.45),
    (-2.00, 26.95), (-2.00, 26.72), (-1.99, 27.08), (-1.98, 26.60), (-1.98, 26.88), (-1.97, 27.21),
    (-1.96, 26.79), (-1.96, 26.52), (-1.95, 27.02), (-1.94, 26.68), (-1.94, 27.15), (-1.93, 26.91),
    (-1.92, 26.45), (-1.92, 27.27), (-1.91, 26.82), (-1.90, 27.05), (-1.90, 26.63), (-1.89, 26.97),
    (-1.88, 26.74), (-1.88, 27.18), (-1.87, 26.55), (-1.86, 26.90), (-1.86, 27.10), (-1.85, 26.67),
    (-1.84, 27.00), (-1.84, 26.42), (-1.83, 26.84), (-1.82, 27.24), (-1.82, 26.61), (-1.81, 26.95),
    (-1.80, 26.76), (-1.80, 27.12), (-1.79, 26.50), (-1.78, 26.89), (-1.78, 27.04), (-1.77, 26.70),
    (-1.76, 27.30), (-1.76, 26.58), (-1.75, 26.93), (-1.74, 26.81), (-1.74, 27.16), (-1.73, 26.47),
    (-1.72, 27.01), (-1.72, 26.66), (-1.71, 26.86), (-1.70, 27.22), (-1.70, 26.54), (-1.69, 26.98),
    (-1.68, 26.73), (-1.68, 27.09), (-1.67, 26.40), (-1.66, 26.92), (-1.66, 27.27), (-1.65, 26.62),
    (-1.64, 26.85), (-1.64, 27.06), (-1.63, 26.49), (-1.62, 26.96), (-1.62, 26.71), (-1.61, 27.19),
    (-1.60, 26.57), (-1.60, 26.88), (-1.59, 27.03), (-1.58, 26.44), (-1.58, 26.78), (-1.57, 27.13),
    (-1.56, 26.65), (-1.56, 26.94), (-1.55, 27.25), (-1.54, 26.52), (-1.54, 26.83), (-1.53, 27.07),
    (-1.52, 26.69), (-1.52, 26.99), (-1.51, 26.38), (-1.50, 26.90), (-1.50, 27.17), (-1.49, 26.60),
    (-1.48, 26.80), (-1.48, 27.02), (-1.47, 26.48), (-1.46, 26.95), (-1.46, 27.29), (-1.45, 26.67),
    (-1.44, 26.87), (-1.44, 27.10), (-1.43, 26.55), (-1.42, 26.76), (-1.42, 27.00), (-1.41, 26.43),
    (-1.40, 26.91), (-1.40, 27.20), (-1.39, 26.63), (-1.38, 26.84), (-1.38, 27.06), (-1.37, 26.51),
    (-1.36, 26.97), (-1.36, 26.72), (-1.35, 27.14), (-1.34, 26.58), (-1.34, 26.89), (-1.33, 27.26),
    (-1.32, 26.46), (-1.32, 26.81), (-1.31, 27.04), (-1.30, 26.68), (-1.30, 26.93), (-1.29, 26.36),
    (-1.28, 27.11), (-1.28, 26.77), (-1.27, 26.56), (-1.26, 26.99), (-1.26, 27.23), (-1.25, 26.64),
    (-1.24, 26.86), (-1.24, 26.41), (-1.23, 27.08), (-1.22, 26.73), (-1.22, 26.95), (-1.21, 26.53),
    (-1.20, 27.16), (-1.20, 26.82), (-1.19, 26.61), (-1.18, 27.01), (-1.18, 26.45), (-1.17, 26.90),
    (-1.16, 27.28), (-1.16, 26.70), (-1.15, 26.85), (-1.14, 27.05), (-1.14, 26.50), (-1.13, 26.96),
    (-1.12, 26.66), (-1.12, 27.19), (-1.11, 26.79), (-1.10, 26.39), (-1.10, 27.02), (-1.09, 26.88),
    (-1.08, 26.59), (-1.08, 27.12), (-1.07, 26.75), (-1.06, 26.97), (-1.06, 26.47), (-1.05, 27.24),
    (-1.04, 26.69), (-1.04, 26.91), (-1.03, 27.07), (-1.02, 26.55), (-1.02, 26.83), (-1.01, 27.15),
    (-1.00, 26.63), (-1.00, 26.94), (-0.99, 26.42), (-0.98, 27.03), (-0.98, 26.78), (-0.97, 27.21),
    (-0.96, 26.57), (-0.96, 26.87), (-0.95, 27.09), (-0.94, 26.71), (-0.94, 26.49), (-0.93, 26.99),
    (-0.92, 27.26), (-0.92, 26.64), (-0.91, 26.84), (-0.90, 27.05), (-0.90, 26.53), (-0.89, 26.93),
    (-0.88, 26.74), (-0.88, 27.14), (-0.87, 26.44), (-0.86, 26.89), (-0.86, 27.01), (-0.85, 26.62),
    (-0.84, 27.18), (-0.84, 26.80), (-0.83, 26.52), (-0.82, 26.96), (-0.82, 27.08), (-0.81, 26.68),
    (-0.80, 26.86), (-0.80, 26.40), (-0.79, 27.11), (-0.78, 26.77), (-0.78, 26.58), (-0.77, 27.02),
    (-0.76, 26.91), (-0.76, 26.48), (-0.75, 27.23), (-0.74, 26.70), (-0.74, 26.95), (-0.73, 26.56),
    (-0.72, 27.06), (-0.72, 26.83), (-0.71, 26.63), (-0.70, 27.17), (-0.70, 26.88), (-0.69, 26.45),
    (-0.68, 26.99), (-0.68, 26.73), (-0.67, 27.12), (-0.66, 26.60), (-0.66, 26.92), (-0.65, 27.27),
    (-0.64, 26.79), (-0.64, 26.51), (-0.63, 27.04), (-0.62, 26.67), (-0.62, 26.94), (-0.61, 27.20),
    (-0.60, 26.84), (-0.60, 26.56), (-0.59, 27.10), (-0.58, 26.72), (-0.58, 26.98), (-0.57, 26.43),
    (-0.57, 27.05), (-0.56, 26.86), (-0.56, 26.62), (-0.55, 26.95), (-0.55, 27.15), (-0.55, 26.78),
]
D_LEFT_MORE = [
    (-1.99, 26.82), (-1.96, 27.12), (-1.93, 26.58), (-1.90, 26.86), (-1.87, 27.06), (-1.84, 26.72),
    (-1.81, 26.46), (-1.78, 26.95), (-1.75, 27.18), (-1.72, 26.78), (-1.69, 26.60), (-1.66, 27.02),
    (-1.63, 26.88), (-1.60, 27.22), (-1.57, 26.55), (-1.54, 26.98), (-1.51, 26.74), (-1.48, 27.12),
    (-1.45, 26.50), (-1.42, 26.86), (-1.39, 26.98), (-1.36, 26.62), (-1.33, 27.00), (-1.30, 26.80),
    (-1.27, 27.16), (-1.24, 26.68), (-1.21, 26.92), (-1.18, 26.78), (-1.15, 27.10), (-1.12, 26.58),
    (-1.09, 26.96), (-1.06, 26.80), (-1.03, 26.62), (-1.00, 27.10), (-0.97, 26.70), (-0.94, 26.92),
    (-0.91, 26.56), (-0.88, 26.98), (-0.85, 26.78), (-0.82, 26.60), (-0.79, 26.90), (-0.76, 27.12),
    (-0.73, 26.76), (-0.70, 26.60), (-0.67, 26.86), (-0.64, 27.08), (-0.61, 26.70), (-0.58, 26.88),
    (-0.56, 27.25), (-0.56, 26.40),
]
D_RIGHT = [
    (0.55, 27.59), (0.56, 27.33), (0.57, 26.11), (0.57, 25.92), (0.84, 25.94), (0.83, 26.12), (0.77, 26.16),
    (1.75, 27.37), (1.24, 27.35), (1.04, 27.31), (1.55, 27.30), (1.47, 27.28), (2.00, 27.25), (0.75, 27.30),
    (0.79, 27.24), (0.62, 27.28), (1.66, 26.09), (1.64, 26.11), (1.26, 26.13), (1.55, 26.21), (1.89, 26.20),
    (1.00, 26.21), (1.09, 26.21), (0.66, 26.24), (2.03, 26.48), (1.32, 26.23), (1.65, 26.22),
    (0.54, 27.18), (0.55, 26.95), (0.56, 27.05), (0.57, 26.75), (0.58, 26.88), (0.58, 26.52), (0.59, 27.10),
    (0.60, 26.66), (0.60, 26.38), (0.61, 26.81), (0.62, 26.58), (0.62, 27.00), (0.63, 26.45), (0.64, 26.72),
    (0.64, 26.92), (0.65, 26.34), (0.66, 26.64), (0.66, 26.80), (0.67, 26.50), (0.68, 27.12), (0.68, 26.70),
    (0.69, 26.41), (0.70, 26.86), (0.70, 26.60), (0.71, 27.03), (0.72, 26.76), (0.72, 26.48), (0.73, 26.93),
    (0.74, 26.68), (0.74, 27.17), (0.75, 26.55), (0.76, 26.83), (0.76, 26.37), (0.77, 26.72), (0.78, 27.00),
    (0.78, 26.62), (0.79, 26.44), (0.80, 26.90), (0.80, 26.74), (0.81, 27.08), (0.82, 26.57), (0.82, 26.80),
    (0.83, 26.31), (0.84, 26.96), (0.84, 26.66), (0.85, 27.14), (0.86, 26.50), (0.86, 26.78), (0.87, 26.88),
    (0.88, 26.42), (0.88, 27.04), (0.89, 26.70), (0.90, 26.59), (0.90, 26.93), (0.91, 26.35), (0.92, 26.82),
    (0.92, 27.20), (0.93, 26.64), (0.94, 26.47), (0.94, 26.99), (0.95, 26.74), (0.96, 27.09), (0.96, 26.55),
    (0.97, 26.86), (0.98, 26.38), (0.98, 26.69), (0.99, 27.02), (1.00, 26.79), (1.00, 26.51), (1.01, 27.16),
    (1.02, 26.62), (1.02, 26.91), (1.03, 26.44), (1.04, 26.73), (1.04, 27.06), (1.05, 26.57), (1.06, 26.85),
    (1.06, 26.33), (1.07, 27.11), (1.08, 26.68), (1.08, 26.95), (1.09, 26.48), (1.10, 27.24), (1.10, 26.77),
    (1.11, 26.60), (1.12, 27.00), (1.12, 26.40), (1.13, 26.84), (1.14, 27.13), (1.14, 26.66), (1.15, 26.53),
    (1.16, 26.94), (1.16, 27.05), (1.17, 26.73), (1.18, 26.45), (1.18, 26.88), (1.19, 27.19), (1.20, 26.61),
    (1.20, 26.80), (1.21, 26.36), (1.22, 27.03), (1.22, 26.70), (1.23, 26.92), (1.24, 26.52), (1.24, 27.10),
    (1.25, 26.76), (1.26, 26.63), (1.26, 26.98), (1.27, 26.43), (1.28, 26.85), (1.28, 27.15), (1.29, 26.69),
    (1.30, 26.56), (1.30, 27.01), (1.31, 26.82), (1.32, 26.39), (1.32, 27.22), (1.33, 26.74), (1.34, 26.95),
    (1.34, 26.60), (1.35, 27.07), (1.36, 26.49), (1.36, 26.87), (1.37, 26.66), (1.38, 27.12), (1.38, 26.78),
    (1.39, 26.35), (1.40, 26.97), (1.40, 26.71), (1.41, 27.04), (1.42, 26.58), (1.42, 26.86), (1.43, 26.46),
    (1.44, 27.18), (1.44, 26.80), (1.45, 26.64), (1.46, 26.99), (1.46, 26.41), (1.47, 26.90), (1.48, 26.73),
    (1.48, 27.09), (1.49, 26.55), (1.50, 26.84), (1.50, 27.25), (1.51, 26.67), (1.52, 26.94), (1.52, 26.32),
    (1.53, 27.02), (1.54, 26.76), (1.54, 26.50), (1.55, 26.89), (1.56, 27.14), (1.56, 26.62), (1.57, 26.81),
    (1.58, 26.44), (1.58, 27.06), (1.59, 26.70), (1.60, 26.97), (1.60, 26.37), (1.61, 26.86), (1.62, 27.20),
    (1.62, 26.59), (1.63, 26.78), (1.64, 26.48), (1.64, 27.00), (1.65, 26.92), (1.66, 26.66), (1.66, 27.11),
    (1.67, 26.40), (1.68, 26.83), (1.68, 26.75), (1.69, 27.04), (1.70, 26.57), (1.70, 26.90), (1.71, 26.34),
    (1.72, 27.16), (1.72, 26.72), (1.73, 26.96), (1.74, 26.53), (1.74, 26.85), (1.75, 27.08), (1.76, 26.64),
    (1.76, 26.43), (1.77, 26.93), (1.78, 27.21), (1.78, 26.79), (1.79, 26.60), (1.80, 27.01), (1.80, 26.88),
    (1.81, 26.38), (1.82, 26.74), (1.82, 27.13), (1.83, 26.55), (1.84, 26.98), (1.84, 26.68), (1.85, 27.05),
    (1.86, 26.46), (1.86, 26.84), (1.87, 26.77), (1.88, 27.18), (1.88, 26.62), (1.89, 26.91), (1.90, 26.50),
    (1.90, 27.03), (1.91, 26.80), (1.92, 26.36), (1.92, 26.95), (1.93, 27.10), (1.94, 26.70), (1.94, 26.57),
    (1.95, 26.87), (1.96, 27.15), (1.96, 26.44), (1.97, 26.78), (1.98, 27.00), (1.98, 26.64), (1.99, 26.92),
    (2.00, 26.52), (2.00, 26.83), (2.01, 27.07), (2.02, 26.73), (2.02, 26.96), (2.03, 26.60),
]
D_RIGHT_MORE = [
    (0.55, 26.84), (0.58, 26.70), (0.61, 26.96), (0.64, 26.58), (0.67, 26.76), (0.70, 26.98), (0.73, 26.62),
    (0.76, 26.90), (0.79, 26.74), (0.82, 26.98), (0.85, 26.60), (0.88, 26.80), (0.91, 26.66), (0.94, 26.84),
    (0.97, 26.58), (1.00, 26.96), (1.03, 26.70), (1.06, 26.82), (1.09, 26.62), (1.12, 26.88), (1.15, 26.72),
    (1.18, 26.98), (1.21, 26.58), (1.24, 26.84), (1.27, 26.70), (1.30, 26.90), (1.33, 26.56), (1.36, 26.76),
    (1.39, 26.94), (1.42, 26.68), (1.45, 26.84), (1.48, 26.60), (1.51, 26.96), (1.54, 26.72), (1.57, 26.90),
    (1.60, 26.62), (1.63, 26.86), (1.66, 26.52), (1.69, 26.78), (1.72, 26.94), (1.75, 26.70), (1.78, 26.88),
    (1.81, 26.60), (1.84, 26.80), (1.87, 26.96), (1.90, 26.70), (1.93, 26.84), (1.96, 26.62), (1.99, 26.76),
    (2.02, 26.88),
]
FIT_D_LEFT_X = [-2.0, 0.0]
FIT_D_LEFT_Y = [26.85, 26.75]
FIT_D_RIGHT_X = [0.0, 2.04]
FIT_D_RIGHT_Y = [26.71, 26.78]


def to_xy(*groups):
    """把若干 (x, y) 列表合并成两个数组"""
    pts = np.array([p for g in groups for p in g], dtype=float)
    return pts[:, 0], pts[:, 1]


def draw_panel(ax, points, fits, xlim, ylim, xstep, ystep, xfmt, yfmt, ylabel):
    """单个子图：散点 + 两侧拟合线 + x=0 竖线，ggplot theme_bw 风格"""
    ax.set_xlim(*xlim)
    ax.set_ylim(*ylim)

    ax.xaxis.set_major_locator(MultipleLocator(xstep))
    ax.xaxis.set_minor_locator(MultipleLocator(xstep / 2))
    ax.yaxis.set_major_locator(MultipleLocator(ystep))
    ax.yaxis.set_minor_locator(MultipleLocator(ystep / 2))
    ax.xaxis.set_major_formatter(xfmt)
    ax.yaxis.set_major_formatter(yfmt)

    ax.grid(True, which="major", color="#EBEBEB", linewidth=0.9, zorder=0)
    ax.grid(True, which="minor", color="#F5F5F5", linewidth=0.6, zorder=0)
    ax.set_axisbelow(True)

    for x, y in points:
        ax.scatter(x, y, s=22, color=POINT_COLOR, linewidths=0, zorder=2)

    ax.axvline(0, color="black", linewidth=0.9, zorder=3)
    for fx, fy in fits:
        ax.plot(fx, fy, color="red", linewidth=1.1, zorder=4)

    for side in ("top", "right"):
        ax.spines[side].set_color("#C4C4C4")
        ax.spines[side].set_linewidth(1.0)
    for side in ("left", "bottom"):
        ax.spines[side].set_color("#333333")
        ax.spines[side].set_linewidth(1.1)

    ax.tick_params(which="major", length=3, width=0.6, color="#333333",
                   labelsize=9, labelcolor="#1F1F1F", pad=2)
    ax.tick_params(which="minor", length=0)
    ax.set_xlabel(XLABEL, fontsize=10.5, labelpad=2)
    ax.set_ylabel(ylabel, fontsize=9.8, labelpad=4)


def main() -> None:
    fig = plt.figure(figsize=(12.76, 10.86), dpi=100)
    W, H = 1276, 1086

    def box(left, top, right, bottom):
        return [left / W, 1 - bottom / H, (right - left) / W, (bottom - top) / H]

    ax_a = fig.add_axes(box(55, 77, 635, 495))
    ax_b = fig.add_axes(box(696, 77, 1271, 495))
    ax_c = fig.add_axes(box(52, 628, 635, 1046))
    ax_d = fig.add_axes(box(688, 628, 1271, 1046))

    one_dec = FormatStrFormatter("%.1f")
    integer = FormatStrFormatter("%d")

    draw_panel(ax_a,
               [to_xy(A_LEFT_HIGH, A_LEFT_MID, A_LEFT_BAND, A_LEFT_LOW, A_LEFT_LOW2),
                to_xy(A_RIGHT_HIGH, A_RIGHT_BAND, A_RIGHT_LOW, A_RIGHT_LOW2)],
               [(FIT_A_LEFT_X, FIT_A_LEFT_Y), (FIT_A_RIGHT_X, FIT_A_RIGHT_Y)],
               (-5.18, 5.18), (-0.10, 2.216), 2.5, 0.5, one_dec, one_dec,
               "Matched non-fishing vessel detections per 100 overpasses")

    draw_panel(ax_b, [to_xy(B_LEFT, B_LEFT_MORE), to_xy(B_RIGHT, B_RIGHT_MORE)],
               [(FIT_B_LEFT_X, FIT_B_LEFT_Y), (FIT_B_RIGHT_X, FIT_B_RIGHT_Y)],
               (-2.47, 2.46), (-20.5, 694), 1, 200, integer, integer, "Depth (m)")

    draw_panel(ax_c, [to_xy(C_LEFT, C_LEFT_MORE), to_xy(C_RIGHT, C_RIGHT_MORE)],
               [(FIT_C_LEFT_X, FIT_C_LEFT_Y), (FIT_C_RIGHT_X, FIT_C_RIGHT_Y)],
               (-2.156, 2.163), (-0.32, 14.61), 1, 5, integer, integer, "Chlorophyll-a (mg/m^3)")

    draw_panel(ax_d, [to_xy(D_LEFT, D_LEFT_MORE), to_xy(D_RIGHT, D_RIGHT_MORE)],
               [(FIT_D_LEFT_X, FIT_D_LEFT_Y), (FIT_D_RIGHT_X, FIT_D_RIGHT_Y)],
               (-2.215, 2.19), (21.33, 27.88), 1, 2, integer, integer, "Sea Surface Temperature (C)")

    titles = [
        ("(a) Non-Fishing Vessel Presence", 323, 20),
        ("(b) Oceanic Depth", 962, 20),
        ("(c) Chlorophyll", 324, 570),
        ("(d) Sea Surface Temperature", 961, 570),
    ]
    for text, cx, cy in titles:
        fig.text(cx / W, 1 - cy / H, text, ha="center", va="center",
                 fontfamily="cmr10", fontsize=20.5)

    fig.savefig("out.png", dpi=100)
    plt.close(fig)


if __name__ == "__main__":
    main()
